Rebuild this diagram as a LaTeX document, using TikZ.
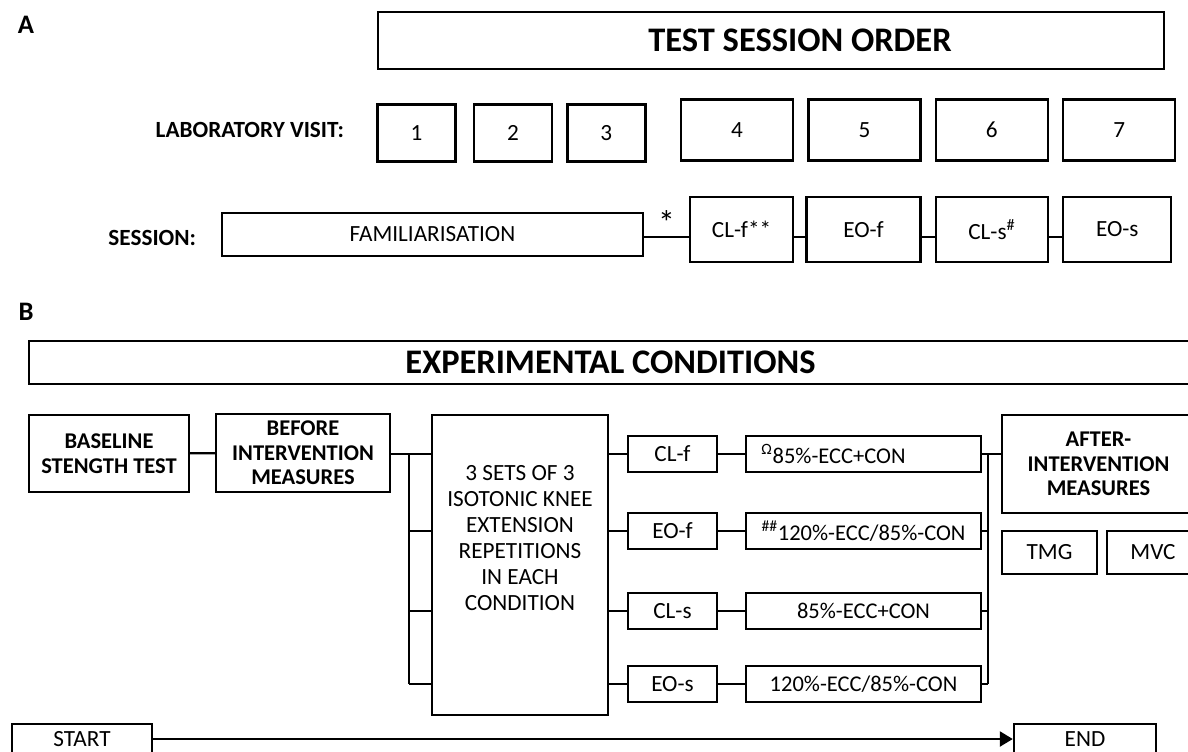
\documentclass[tikz,border=0pt]{standalone}
\usepackage{fontspec}
\setmainfont{Carlito}
\usetikzlibrary{positioning}
\usetikzlibrary{arrows.meta}

\begin{document}
\begin{tikzpicture}[
    x=0.025cm, y=-0.025cm,
    node distance=0.325cm,
    box/.style={
        rectangle,
        draw,
        line width=1.7pt,
        inner sep=1pt,
        align=center,
        font=\fontsize{16.5}{18}\selectfont
    },
    boldbox/.style={box, font=\fontsize{16}{17.5}\selectfont\bfseries},
    headbox/.style={box, minimum height=1.075cm, font=\fontsize{24.5}{28}\selectfont\bfseries},
    visit/.style={box, minimum width=1.95cm, minimum height=1.425cm},
    bigvisit/.style={box, minimum width=2.8cm, minimum height=1.525cm},
    session/.style={box, minimum height=1.625cm},
    cond/.style={box, minimum width=2.225cm, minimum height=0.9cm},
    rate/.style={box, minimum width=5.875cm, minimum height=0.9cm, font=\fontsize{16}{18}\selectfont},
    caption/.style={font=\fontsize{16.5}{20}\selectfont\bfseries},
    panel/.style={font=\fontsize{19}{20}\selectfont\bfseries},
    link/.style={line width=1.6pt}
]
    \useasboundingbox (0,0) rectangle (1188,751);
    \clip (0,0) rectangle (1188,751);

    % A: orden de las sesiones
    \node (labA) [panel] at (26,25) {A};
    \node (tso) [headbox, minimum width=19.65cm, minimum height=1.425cm] at (771,40.5) {\hspace*{1.45cm}TEST SESSION ORDER};

    \node (labvisit) [caption, anchor=east] at (349,130) {LABORATORY VISIT:};
    \node (v1) [visit] at (416.5,133) {1};
    \node (v2) [visit, right=0.4cm of v1] {2};
    \node (v3) [visit, right=of v2] {3};
    \node (v4) [bigvisit] at (737,130) {4};
    \node (v5) [bigvisit, right=of v4] {5};
    \node (v6) [bigvisit, right=of v5] {6};
    \node (v7) [bigvisit, right=of v6] {7};

    \node (labsession) [caption, anchor=east] at (201,238) {SESSION:};
    \node (fam) [box, minimum width=10.525cm, minimum height=1.075cm] at (432.5,234.5) {FAMILIARISATION};
    \node (clf) [session, minimum width=2.575cm] at (741.5,229.5) {CL-f**};
    \node (eof) [session, minimum width=2.85cm, right=0.275cm of clf] {EO-f};
    \node (cls) [session, minimum width=2.8cm, right=of eof] {CL-s\textsuperscript{\#}};
    \node (eos) [session, minimum width=2.7cm, right=of cls] {EO-s};

    \coordinate (sline) at (0,237);
    \draw [link] (fam.east |- sline) -- node (star) [above, inner sep=1pt, font=\fontsize{24}{24}\selectfont] {*} (clf.west |- sline);
    \draw [link] (clf.east |- sline) -- (eof.west |- sline);
    \draw [link] (eof.east |- sline) -- (cls.west |- sline);
    \draw [link] (cls.east |- sline) -- (eos.west |- sline);

    % B: condiciones experimentales
    \node (labB) [panel] at (26,312) {B};
    \node (expc) [headbox, minimum width=29.075cm] at (610.5,362.5) {EXPERIMENTAL CONDITIONS};

    \node (base) [boldbox, minimum width=4cm, minimum height=1.925cm] at (109,453.5) {BASELINE\\STENGTH TEST};
    \node (before) [boldbox, minimum width=4.35cm, minimum height=1.95cm] at (303,453) {BEFORE\\INTERVENTION\\MEASURES};
    \node (sets) [box, minimum width=4.4cm, minimum height=7.5cm] at (520,565) {};
    \node (setstext) [align=center, font=\fontsize{16.5}{18.5}\selectfont] at (520,538) {3 SETS OF 3\\ISOTONIC KNEE\\EXTENSION\\REPETITIONS\\IN EACH\\CONDITION};

    \node (clfB) [cond] at (672.5,454) {CL-f};
    \node (eofB) [cond] at (672.5,531) {EO-f};
    \node (clsB) [cond] at (672.5,611) {CL-s};
    \node (eosB) [cond] at (672.5,684) {EO-s};

    \node (rfast) [rate] at (863.5,454) {\textsuperscript{Ω}85\%-ECC+CON\hspace*{1.5cm}};
    \node (rfasteo) [rate] at (863.5,531) {\textsuperscript{\#\#}120\%-ECC/85\%-CON};
    \node (rslow) [rate] at (863.5,611) {85\%-ECC+CON};
    \node (rsloweo) [rate] at (863.5,684) {120\%-ECC/85\%-CON};

    \node (after) [boldbox, minimum width=4.825cm, minimum height=2.45cm] at (1098.5,464) {AFTER-\\INTERVENTION\\MEASURES};
    \node (tmg) [box, minimum width=2.375cm, minimum height=1.075cm] at (1049.5,552.5) {TMG};
    \node (mvc) [box, minimum width=2.3cm, minimum height=1.075cm] at (1153,552.5) {MVC};

    \node (start) [box, minimum width=3.5cm, minimum height=0.75cm] at (82,739) {START};
    \node (end) [box, minimum width=3.55cm, minimum height=0.75cm] at (1085,739) {END};

    % Conexiones
    \coordinate (lbus) at (409,0);
    \coordinate (rbus) at (988,0);
    \draw [link] (base) -- (before);
    \draw [link] (before.east |- clfB) -- (lbus |- clfB) -- (lbus |- eosB);
    \draw [link] (lbus |- clfB) -- (sets.west |- clfB);
    \draw [link] (lbus |- eofB) -- (sets.west |- eofB);
    \draw [link] (lbus |- clsB) -- (sets.west |- clsB);
    \draw [link] (lbus |- eosB) -- (sets.west |- eosB);
    \draw [link] (sets.east |- clfB) -- (clfB);
    \draw [link] (sets.east |- eofB) -- (eofB);
    \draw [link] (sets.east |- clsB) -- (clsB);
    \draw [link] (sets.east |- eosB) -- (eosB);
    \draw [link] (clfB) -- (rfast);
    \draw [link] (eofB) -- (rfasteo);
    \draw [link] (clsB) -- (rslow);
    \draw [link] (eosB) -- (rsloweo);
    \draw [link] (rfast) -- (rbus |- rfast);
    \draw [link] (rfasteo) -- (rbus |- rfasteo);
    \draw [link] (rslow) -- (rbus |- rslow);
    \draw [link] (rsloweo) -- (rbus |- rsloweo);
    \draw [link] (rbus |- rfast) -- (rbus |- rsloweo);
    \draw [link] (rbus |- rfast) -- (after.west |- rfast);
    \draw [link, -{Triangle[length=0.325cm, width=0.375cm]}] (start) -- (end);
\end{tikzpicture}
\end{document}
